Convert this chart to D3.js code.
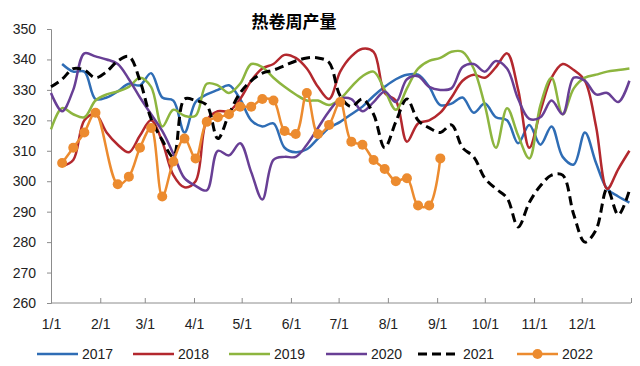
<!DOCTYPE html>
<html>
<head>
<meta charset="utf-8">
<script src="https://cdn.jsdelivr.net/npm/d3@7"></script>
<style>
  body { margin: 0; background: #fff; }
  svg { display: block; font-family: "Liberation Sans", Arial, sans-serif; }
  .title { font-family: "Noto Sans CJK SC", sans-serif; font-weight: bold; font-size: 17px; }
  .axis text { font-size: 14px; fill: #222; }
  .axis path, .axis line { stroke: #8c8c8c; }
  .legendText { font-size: 14px; fill: #222; }
</style>
</head>
<body>
<svg width="640" height="366"></svg>
<script>
WIDTH = 640;
HEIGHT = 366;

var years = ['2017', '2018', '2019', '2020', '2021', '2022'];
var colors = ['#2f6db5', '#b3282e', '#8db53f', '#683f95', '#000000', '#ec8b2f'];
var monthLabels = ['1/1', '2/1', '3/1', '4/1', '5/1', '6/1', '7/1', '8/1', '9/1', '10/1', '11/1', '12/1'];
var yTicks = [260, 270, 280, 290, 300, 310, 320, 330, 340, 350];

// weekly values, index 0 = first week of January (null = no data)
var v2017 = [null, 338.5, 336, 336, 327, 327.5, 329.5, 332, 331.5, 335.5, 327.5, 326.5, 316, 326, 328.5, 330, 331.5,
  327, 320, 318, 319, 311, 309.5, 310.5, 314, 317.5, 319.5, 322, 324.5, 328, 331, 333.5, 335, 335, 331, 325,
  325.5, 327.5, 322.5, 325.5, 321, 320, 312.5, 318.5, 312, 318, 308, 305.5, 316, 306, 297.5, 295, 293];
var v2018 = [null, 305, 307, 320, 322, 316, 312, 309.5, 315, 320, 313, 302, 298, 300, 320, 323, 323,
  327, 333, 337, 338.5, 341.5, 340.5, 337, 331, 327, 336, 341, 343.5, 342.5, 329, 326.5, 313, 319, 320, 322.5,
  327.5, 333, 335, 334, 337.5, 342, 330, 311, 323, 334, 338.5, 336.5, 333, 318, 297.5, 304, 310];
var v2019 = [317, 324, 322, 321, 326.5, 328.5, 329.5, 331, 334, 331, 318, 323.5, 321.5, 321.5, 332, 331.5, 329,
  332, 338.5, 337.5, 334, 331, 328.5, 326.5, 326.5, 325, 327, 331, 334.5, 336, 330, 323.5, 330.5, 337, 339.5, 340.5,
  342.5, 342.5, 337, 325, 311, 324, 315, 307.5, 325, 334, 322, 330.5, 334, 335, 336, 336.5, 337];
var v2020 = [329, 323, 330, 342, 341, 340, 338.5, 333.5, 327.5, 322, 316.5, 309, 301, 298.5, 297, 310, 308.5,
  312.5, 303, 294, 307, 308, 308, 312, 317.5, 323, 327, 327, 323, 326, 329.5, 326, 333.5, 334.5, 331, 330,
  330.5, 337.5, 338.5, 336, 339.5, 337, 327, 320.5, 321, 326.5, 322, 334, 333, 328.5, 329, 326, 333];
var v2021 = [331, 333.5, 337, 336.5, 334, 336, 339.5, 341, 333, 320.5, 313.5, 308, 327, 326.5, 325, 314, 322,
  329, 333, 335.5, 336.5, 338, 339.5, 340.5, 340.5, 339, 328, 324.5, 327, 322, 311, 319.5, 327, 320, 317.5, 316,
  318.5, 311, 308, 301, 297.5, 294.5, 285, 293, 298.5, 302, 302, 289, 280, 284, 297.5, 289, 297];
var v2022 = [null, 306, 311, 316, 322.5, null, 299, 301.5, 311, 317.5, 295, 306.5, 314, 307.5, 319.5, 321, 322,
  324.5, 324.5, 327, 326.5, 316.5, 315.5, 329, 315.5, 318.5, 326, 313, 312, 307, 304, 300, 301, 292, 292, 307.5];
var seriesValues = [v2017, v2018, v2019, v2020, v2021, v2022];

function drawChart () {
  var svg = d3.select("svg");

  var start = new Date(2022, 0, 1);
  var x = d3.scaleTime()
    .domain([start, new Date(2023, 0, 1)])
    .range([51, 631]);
  var y = d3.scaleLinear()
    .domain([260, 350])
    .range([303, 29]);

  // title
  svg.append("text")
    .attr("class", "title")
    .attr("x", 294)
    .attr("y", 20)
    .attr("text-anchor", "middle")
    .attr("dominant-baseline", "central")
    .text("热卷周产量");

  // y axis
  var yAxis = svg.append("g")
    .attr("class", "axis")
    .attr("transform", "translate(51,0)")
    .call(d3.axisLeft(y).tickValues(yTicks).tickSize(4).tickPadding(11));

  // x axis, ticks point up into the plot
  var months = d3.timeMonth.range(start, new Date(2023, 0, 2));
  var xAxis = svg.append("g")
    .attr("class", "axis")
    .attr("transform", "translate(0,303)")
    .call(d3.axisBottom(x).tickValues(months).tickSize(-5).tickPadding(16)
      .tickFormat(function (d, i) { return monthLabels[i] || ""; }));
  xAxis.selectAll(".tick line").filter(function (d, i) { return i === 0; }).remove();
  xAxis.select(".domain").attr("d", "M51,0H631");

  // lines
  var line = d3.line()
    .x(function (d) { return x(d.date); })
    .y(function (d) { return y(d.v); })
    .curve(d3.curveCatmullRom.alpha(0.5));

  seriesValues.forEach(function (vals, s) {
    var pts = vals.map(function (v, i) {
      return { date: d3.timeDay.offset(start, 7 * i), v: v };
    }).filter(function (d) { return d.v !== null; });

    var path = svg.append("path")
      .datum(pts)
      .attr("fill", "none")
      .attr("stroke", colors[s])
      .attr("stroke-width", s === 4 ? 3 : 2.5)
      .attr("stroke-linejoin", "round")
      .attr("d", line);
    if (s === 4) path.attr("stroke-dasharray", "9,5");

    if (s === 5) {
      svg.append("g").selectAll("circle")
        .data(pts)
        .join("circle")
        .attr("cx", function (d) { return x(d.date); })
        .attr("cy", function (d) { return y(d.v); })
        .attr("r", 5)
        .attr("fill", colors[s]);
    }
  });

  // legend
  var legX = [37, 133, 229, 326, 418, 517];
  var legend = svg.append("g");
  years.forEach(function (yr, s) {
    var g = legend.append("g").attr("transform", "translate(" + legX[s] + ",354)");
    var l = g.append("line")
      .attr("x1", 0).attr("x2", 41)
      .attr("y1", 0).attr("y2", 0)
      .attr("stroke", colors[s])
      .attr("stroke-width", s === 4 ? 3 : 2.5);
    if (s === 4) l.attr("stroke-dasharray", "9,5");
    if (s === 5) g.append("circle").attr("cx", 20.5).attr("cy", 0).attr("r", 5).attr("fill", colors[s]);
    g.append("text")
      .attr("class", "legendText")
      .attr("x", 45)
      .attr("y", 0)
      .attr("dominant-baseline", "central")
      .text(yr);
  });
}

drawChart();
</script>
</body>
</html>
